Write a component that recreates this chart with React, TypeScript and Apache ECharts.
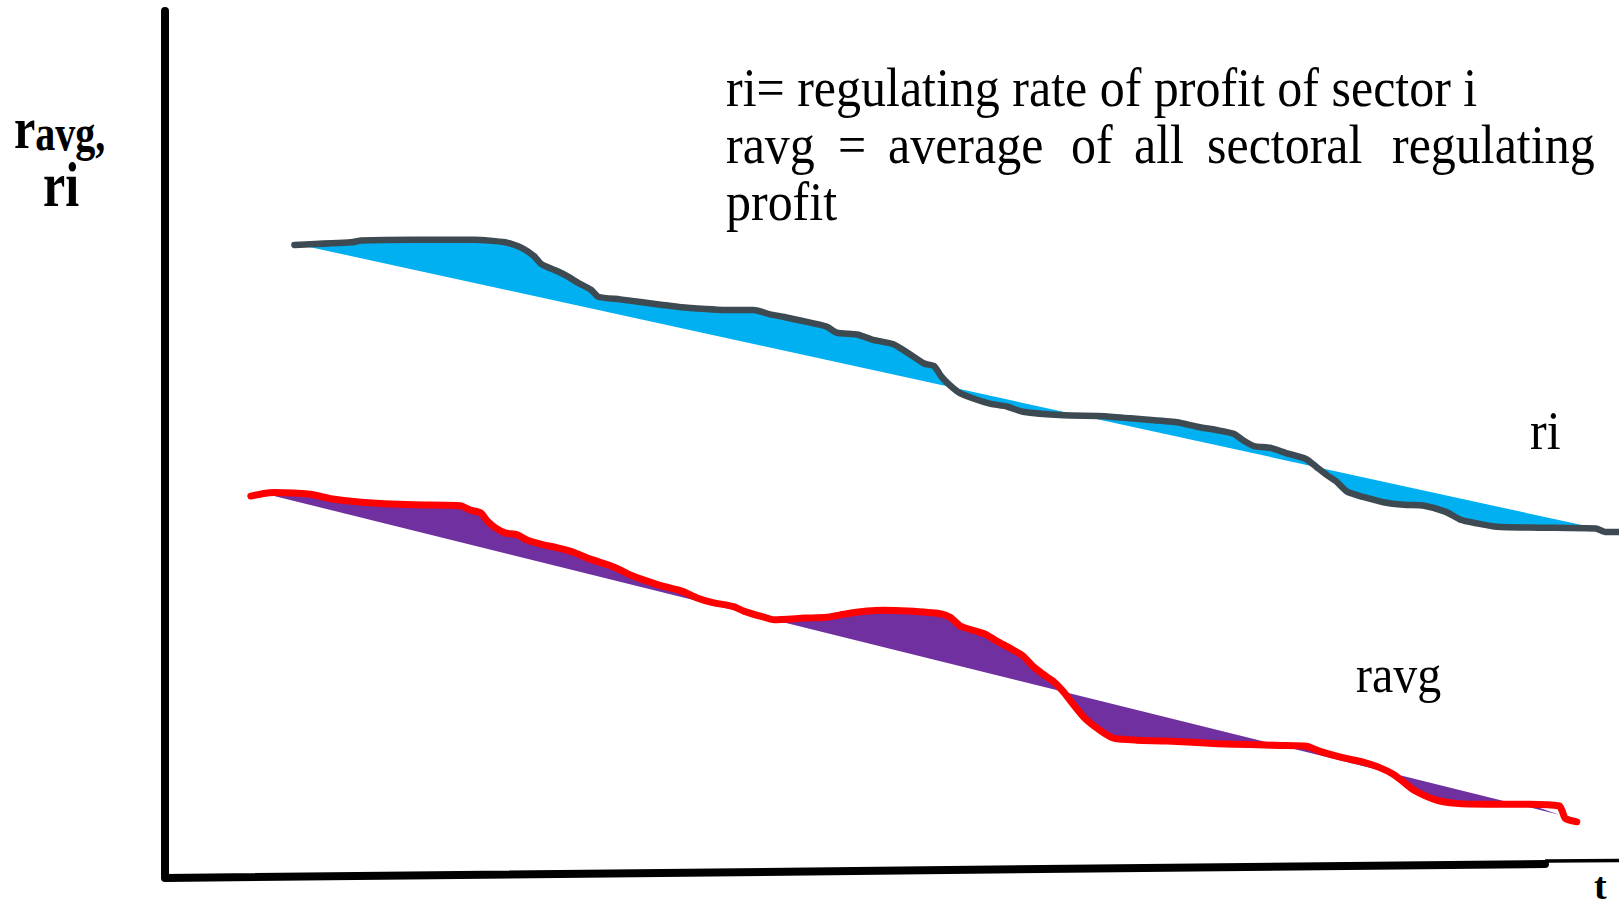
import React, { useEffect, useRef } from "react";
import * as echarts from "echarts";

// Values (t from 0 to 100, r from 0 to 100, no ticks shown)
const riCurve: [number, number][] = [
  [8.9, 72.1], [12.8, 72.4], [13.5, 72.6], [17.1, 72.7], [21.3, 72.7], [23.4, 72.4],
  [24.5, 71.8], [25.4, 70.8], [25.9, 69.9], [27.0, 69.1], [27.6, 68.6], [28.4, 67.8],
  [29.3, 67.0], [29.8, 66.2], [31.3, 65.9], [34.1, 65.3], [35.5, 65.0], [37.2, 64.8],
  [38.4, 64.7], [40.5, 64.7], [41.6, 64.2], [42.6, 63.9], [43.7, 63.5], [45.5, 62.8],
  [46.2, 62.1], [47.6, 61.9], [48.7, 61.3], [50.1, 60.8], [51.1, 59.8], [52.2, 58.6],
  [52.9, 58.3], [53.4, 57.1], [54.0, 56.1], [54.7, 55.2], [55.8, 54.5], [56.8, 54.0],
  [57.9, 53.7], [59.0, 53.1], [61.8, 52.7], [64.6, 52.6], [66.8, 52.3], [69.6, 51.9],
  [71.0, 51.4], [72.4, 51.0], [73.5, 50.6], [74.2, 49.8], [74.9, 49.2], [76.0, 49.0],
  [77.1, 48.4], [78.5, 47.7], [79.2, 46.8], [79.9, 45.9], [80.6, 45.1], [81.3, 44.0],
  [82.4, 43.4], [83.8, 42.8], [85.2, 42.5], [86.6, 42.4], [88.1, 41.7], [89.1, 40.8],
  [90.2, 40.4], [91.6, 40.0], [94.5, 39.9], [98.4, 39.8], [99.1, 39.4], [100.0, 39.4],
];
const riChord: [number, number][] = [[9.3, 72.1], [98.0, 40.0]];

const ravgCurve: [number, number][] = [
  [5.9, 43.5], [6.8, 43.8], [7.5, 43.9], [10.0, 43.7], [11.4, 43.2], [13.5, 42.8],
  [17.1, 42.5], [20.3, 42.4], [21.0, 41.9], [21.7, 41.6], [22.2, 40.6], [22.7, 39.9],
  [23.4, 39.3], [24.2, 39.1], [24.9, 38.5], [25.9, 38.0], [27.0, 37.6], [28.1, 37.1],
  [29.1, 36.4], [30.6, 35.6], [31.3, 35.1], [32.0, 34.5], [33.0, 33.9], [34.1, 33.3],
  [35.5, 32.7], [36.6, 31.9], [37.6, 31.4], [39.1, 30.9], [39.8, 30.4], [41.2, 29.7],
  [41.9, 29.4], [44.0, 29.6], [45.5, 29.7], [46.9, 30.1], [48.3, 30.4], [49.4, 30.5],
  [51.1, 30.4], [53.3, 30.1], [54.0, 29.7], [54.7, 28.7], [55.8, 28.1], [56.5, 27.7],
  [57.2, 27.0], [58.2, 26.1], [59.0, 25.3], [59.7, 24.1], [60.4, 23.2], [61.1, 22.4],
  [61.8, 21.2], [62.5, 19.7], [63.2, 18.3], [63.9, 17.3], [64.6, 16.5], [65.3, 15.9],
  [66.8, 15.7], [68.9, 15.6], [72.4, 15.3], [74.6, 15.2], [76.7, 15.1], [78.5, 15.0],
  [79.5, 14.4], [81.0, 13.7], [82.4, 13.2], [83.5, 12.6], [84.5, 11.8], [85.2, 10.9],
  [85.9, 10.0], [87.4, 8.9], [88.8, 8.5], [90.9, 8.4], [93.8, 8.4], [95.9, 8.2],
  [96.1, 7.6], [96.3, 6.8], [97.1, 6.4],
];
const ravgChord: [number, number][] = [[6.8, 43.8], [95.9, 7.2]];

const seriesNames = ["ri", "ravg"];
const noteLine1 = "ri= regulating rate of profit of sector i";
const noteLine2Words = ["ravg", "=", "average", "of", "all", "sectoral", "regulating"];
const noteLine3 = "profit";

const SERIF = '"Liberation Serif", "Times New Roman", serif';

function fillPolygon(curve: [number, number][], chord: [number, number][]) {
  const [s, e] = chord;
  const inner = curve.filter((p) => p[0] > s[0] && p[0] < e[0]);
  return [s, ...inner, e];
}

export default function App() {
  const ref = useRef<HTMLDivElement>(null);

  useEffect(() => {
    if (!ref.current) return;
    const chart = echarts.init(ref.current, undefined, { renderer: "svg" });

    const riPoly = fillPolygon(riCurve, riChord);
    const ravgPoly = fillPolygon(ravgCurve, ravgChord);

    const polySeries = (name: string, poly: [number, number][], color: string) => ({
      type: "custom",
      name: name + " fill",
      data: [[0, 0]],
      z: 1,
      silent: true,
      renderItem: (_params: any, api: any) => ({
        type: "polygon",
        shape: { points: poly.map((p) => api.coord(p)) },
        style: { fill: color, stroke: "none" },
      }),
    });

    const textEl = (
      text: string,
      x: number,
      y: number,
      fontSize: number,
      bold = false,
      scaleY = 1
    ) => ({
      type: "text",
      x,
      y,
      z: 10,
      scaleY,
      style: {
        text,
        fontSize,
        fontFamily: SERIF,
        fontWeight: bold ? "bold" : "normal",
        fill: "#000",
        align: "left",
        verticalAlign: "middle",
        textAlign: "left",
        textVerticalAlign: "middle",
      },
    });

    const line2X = [726, 838, 888, 1071, 1134, 1207, 1392];

    chart.setOption({
      animation: false,
      backgroundColor: "#ffffff",
      grid: { left: 165, right: 0, top: 0, bottom: 34, containLabel: false },
      xAxis: { type: "value", min: 0, max: 100, show: false },
      yAxis: { type: "value", min: 0, max: 100, show: false },
      series: [
        polySeries(seriesNames[0], riPoly, "#00B0F0"),
        polySeries(seriesNames[1], ravgPoly, "#7030A0"),
        {
          type: "line",
          name: seriesNames[0],
          data: riCurve,
          z: 3,
          showSymbol: false,
          smooth: 0.2,
          lineStyle: { color: "#3E4A51", width: 6.5, cap: "round", join: "round" },
        },
        {
          type: "line",
          name: seriesNames[1],
          data: ravgCurve,
          z: 3,
          showSymbol: false,
          smooth: 0.2,
          lineStyle: { color: "#FF0000", width: 7, cap: "round", join: "round" },
        },
      ],
      graphic: [
        {
          type: "line",
          z: 5,
          shape: { x1: 165, y1: 11, x2: 165, y2: 876 },
          style: { stroke: "#000", lineWidth: 8, lineCap: "round" },
        },
        {
          type: "line",
          z: 5,
          shape: { x1: 165, y1: 878, x2: 1545, y2: 864 },
          style: { stroke: "#000", lineWidth: 8, lineCap: "round" },
        },
        {
          type: "line",
          z: 5,
          shape: { x1: 1545, y1: 861, x2: 1619, y2: 860.5 },
          style: { stroke: "#000", lineWidth: 3.5 },
        },
        {
          type: "text",
          x: 14,
          y: 128,
          z: 10,
          scaleY: 1.25,
          style: {
            text: "{a|r}{b|avg,}",
            fill: "#000",
            align: "left",
            verticalAlign: "middle",
            textAlign: "left",
            textVerticalAlign: "middle",
            rich: {
              a: { fontSize: 48, fontWeight: "bold", fontFamily: SERIF, fill: "#000", verticalAlign: "bottom" },
              b: { fontSize: 40, fontWeight: "bold", fontFamily: SERIF, fill: "#000", verticalAlign: "bottom" },
            },
          },
        },
        textEl("ri", 43, 185, 50, true, 1.25),
        textEl(noteLine1, 726, 88, 50, false, 1.08),
        ...noteLine2Words.map((w, i) => textEl(w, line2X[i], 145, 50, false, 1.08)),
        textEl(noteLine3, 726, 202, 50, false, 1.08),
        textEl(seriesNames[0], 1530, 431, 50, false, 1.08),
        textEl(seriesNames[1], 1356, 674, 48, false, 1.08),
        textEl("t", 1594, 886, 38, true),
      ],
    });

    return () => chart.dispose();
  }, []);

  return (
    <div
      ref={ref}
      style={{ position: "fixed", left: 0, top: 0, width: 1619, height: 912 }}
    />
  );
}
